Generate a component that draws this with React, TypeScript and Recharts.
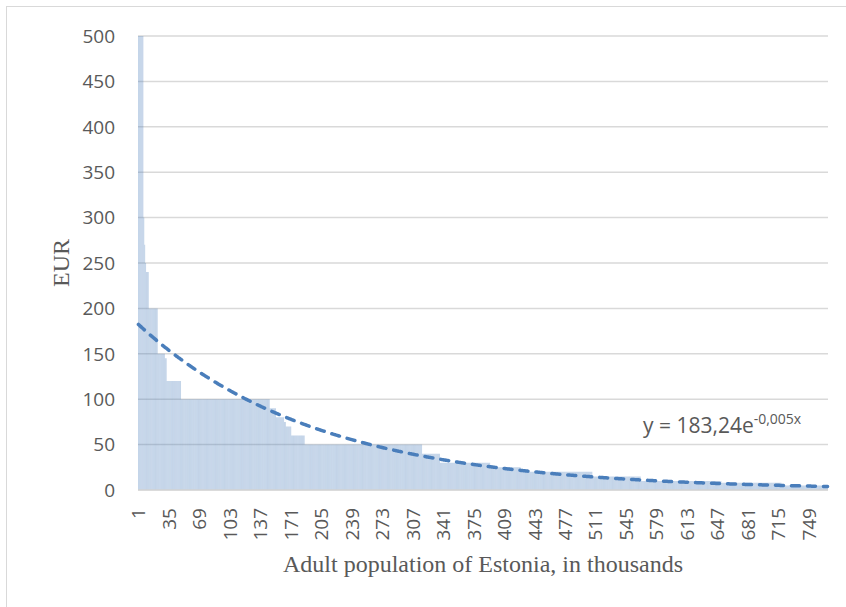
import React from 'react';
import { ComposedChart, Bar, Line, XAxis, YAxis, CartesianGrid, Label } from 'recharts';

// Step levels of the sorted distribution (EUR) and how many thousand adults sit at each level
const stepValues = [500, 300, 270, 250, 240, 200, 150, 145, 120, 100, 90, 80, 75, 70, 60, 50, 40, 30, 25, 20, 15, 10, 8, 5];
const stepCounts = [6, 1, 1, 1, 3, 10, 8, 2, 16, 99, 7, 9, 2, 6, 15, 131, 20, 56, 34, 80, 54, 90, 67, 52];
const yTicks = [0, 50, 100, 150, 200, 250, 300, 350, 400, 450, 500];
// Trendline shown on the chart: y = 183,24e^(-0,005x)
const trendA = 183.24;
const trendB = -0.005;

const amounts: number[] = [];
stepValues.forEach((v, i) => {
  for (let k = 0; k < stepCounts[i]; k++) amounts.push(v);
});
const categories = amounts.map((_, i) => String(i + 1));
const data = categories.map((c, i) => ({
  x: c,
  eur: amounts[i],
  trend: trendA * Math.exp(trendB * (i + 1)),
}));

const tickFont = "'Open Sans', 'Liberation Sans', sans-serif";
const serifFont = "'Liberation Serif', 'Times New Roman', serif";

const XTick = (props: any) => {
  const { x, y, payload } = props;
  return (
    <text
      x={x}
      y={y}
      transform={`rotate(-90, ${x}, ${y})`}
      textAnchor="end"
      dominantBaseline="central"
      fontFamily={tickFont}
      fontSize={19}
      fill="#595959"
    >
      {payload.value}
    </text>
  );
};

export default function App() {
  return (
    <div style={{ position: 'absolute', left: 0, top: 0, width: 846, height: 607, background: '#fff', overflow: 'hidden' }}>
      <div style={{ position: 'absolute', left: 6, top: 6, width: 860, height: 640, border: '1px solid #d9d9d9', boxSizing: 'border-box' }} />
      <div style={{ position: 'absolute', left: 0, top: 0 }}>
        <ComposedChart
          width={846}
          height={607}
          data={data}
          margin={{ top: 36, right: 18, left: 40, bottom: 27 }}
          barCategoryGap={0}
          barGap={0}
        >
          <CartesianGrid vertical={false} stroke="#d9d9d9" strokeWidth={1.5} />
          <XAxis
            dataKey="x"
            interval={33}
            height={90}
            tickLine={false}
            tickSize={0}
            tickMargin={18}
            axisLine={{ stroke: '#d9d9d9', strokeWidth: 1.5 }}
            tick={<XTick />}
          >
            <Label
              value="Adult population of Estonia, in thousands"
              position="insideBottom"
              offset={8}
              style={{ fontFamily: serifFont, fontSize: 24, fill: '#595959' }}
            />
          </XAxis>
          <YAxis
            width={98}
            domain={[0, 500]}
            ticks={yTicks}
            allowDataOverflow
            axisLine={false}
            tickLine={false}
            tickSize={0}
            tickMargin={23}
            tick={{ fontFamily: tickFont, fontSize: 19, fill: '#595959' }}
          >
            <Label
              value="EUR"
              angle={-90}
              position="insideLeft"
              offset={20}
              style={{ fontFamily: serifFont, fontSize: 24, fill: '#595959', textAnchor: 'middle' }}
            />
          </YAxis>
          <Bar dataKey="eur" fill="#4f81bd" fillOpacity={0.34} isAnimationActive={false} />
          <Line
            dataKey="trend"
            type="monotone"
            stroke="#4a7ebb"
            strokeWidth={3.5}
            strokeDasharray="8 8"
            strokeLinecap="round"
            dot={false}
            activeDot={false}
            isAnimationActive={false}
          />
        </ComposedChart>
      </div>
      <svg style={{ position: 'absolute', left: 0, top: 0 }} width={846} height={607} pointerEvents="none">
        <text x={643} y={433} fontFamily={tickFont} fontSize={21} fill="#595959">
          y = 183,24e
          <tspan dy={-9} fontSize={14}>-0,005x</tspan>
        </text>
      </svg>
    </div>
  );
}
